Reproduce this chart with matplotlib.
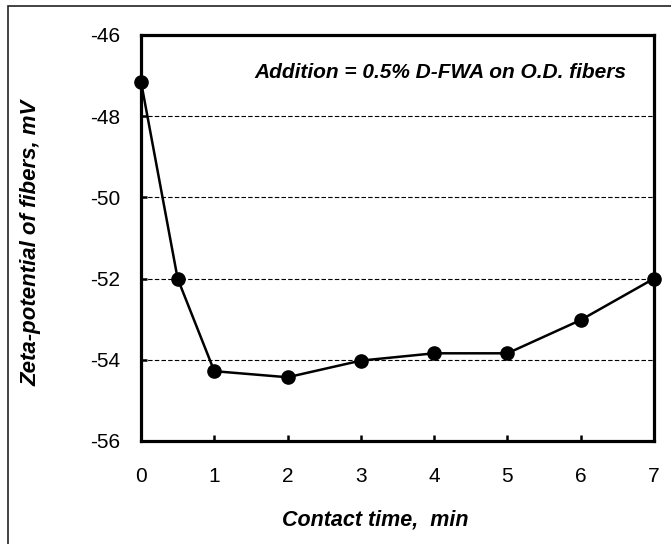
import matplotlib
matplotlib.use("Agg")
import matplotlib.pyplot as plt
from matplotlib.patches import Rectangle

# Data
contact_time = [0, 0.5, 1, 2, 3, 4, 5, 6, 7]
zeta_potential = [-47.15, -52.0, -54.28, -54.43, -54.02, -53.84, -53.84, -53.02, -52.0]
x_ticks = [0, 1, 2, 3, 4, 5, 6, 7]
y_ticks = [-56, -54, -52, -50, -48, -46]
x_label = "Contact time,  min"
y_label = "Zeta-potential of fibers, mV"
note = "Addition = 0.5% D-FWA on O.D. fibers"

plt.rcParams['font.family'] = ['Liberation Sans', 'DejaVu Sans']

W, H = 671, 544
fig = plt.figure(figsize=(W / 100, H / 100), dpi=100)
ax = fig.add_axes([141 / W, 1 - 441 / H, (654 - 141) / W, (441 - 35) / H])

ax.plot(contact_time, zeta_potential, color='black', linewidth=1.8,
        marker='o', markersize=9.5, clip_on=False, zorder=5)

ax.set_xlim(0, 7)
ax.set_ylim(-56, -46)
ax.set_xticks(x_ticks)
ax.set_yticks(y_ticks)
ax.set_yticklabels([str(v) for v in y_ticks])

ax.yaxis.grid(True, linestyle=(0, (4, 2)), linewidth=0.8, color='black')
ax.set_axisbelow(True)

for s in ax.spines.values():
    s.set_linewidth(2.3)
    s.set_color('black')

ax.tick_params(axis='x', direction='in', length=4, width=1.8, pad=19, labelsize=15)
ax.tick_params(axis='y', direction='in', length=4, width=1.8, pad=15, labelsize=15)

ax.text(6.63, -46.92, note, ha='right', va='center', fontsize=15,
        fontweight='bold', fontstyle='italic')

fig.text(375 / W, 1 - 520 / H, x_label, ha='center', va='center',
         fontsize=15.5, fontweight='bold', fontstyle='italic')
fig.text(31 / W, 1 - 243 / H, y_label, ha='center', va='center', rotation=90,
         fontsize=16, fontweight='bold', fontstyle='italic')

# Outer frame (left and top edges visible)
fig.patches.append(Rectangle((8 / W, -0.2), 1.5, (1 - 6 / H) + 0.2,
                             transform=fig.transFigure, fill=False,
                             edgecolor='#222222', linewidth=1.2))

fig.savefig("out.png", dpi=100)
